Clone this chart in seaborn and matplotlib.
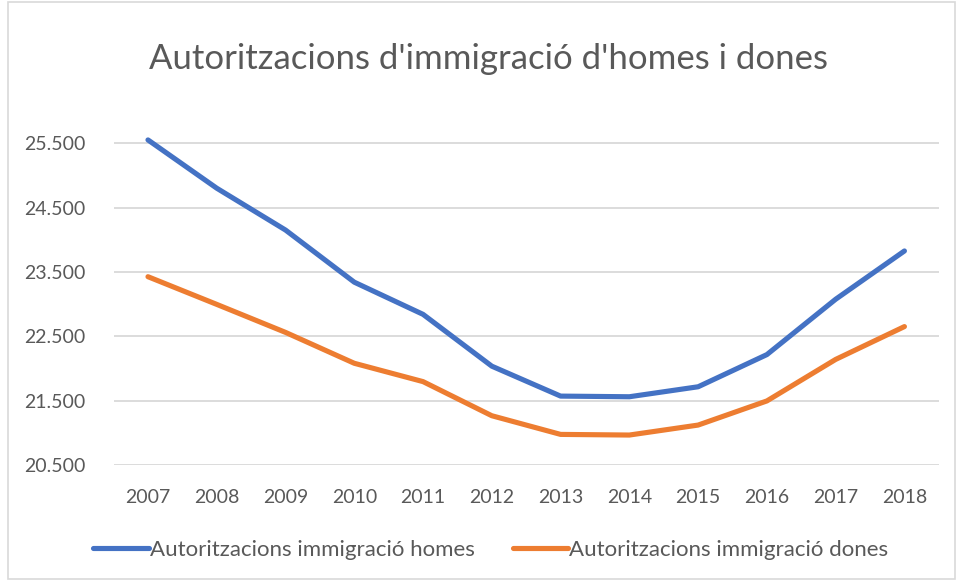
import pandas as pd
import numpy as np
import matplotlib.pyplot as plt
import seaborn as sns
from matplotlib.lines import Line2D
from matplotlib.patches import Rectangle

sns.set_style("white")
plt.rcParams['font.family'] = ['Lato', 'DejaVu Sans']

years = [2007, 2008, 2009, 2010, 2011, 2012, 2013, 2014, 2015, 2016, 2017, 2018]
homes = [25550, 24800, 24150, 23340, 22840, 22035, 21570, 21560, 21715, 22215, 23075, 23825]
dones = [23425, 22995, 22560, 22080, 21795, 21265, 20975, 20965, 21120, 21495, 22140, 22650]
series_names = ['Autoritzacions immigració homes', 'Autoritzacions immigració dones']
yticks = [20500, 21500, 22500, 23500, 24500, 25500]

df = pd.DataFrame({
    'any': [str(y) for y in years] * 2,
    'valor': homes + dones,
    'serie': [series_names[0]] * len(years) + [series_names[1]] * len(years),
})

colors = ['#4472C4', '#ED7D31']
txt = '#595959'

fig = plt.figure(figsize=(9.57, 5.81), dpi=100)
ax = fig.add_axes([0.1187, 0.1997, 0.8623, 0.5938])

sns.lineplot(data=df, x='any', y='valor', hue='serie', palette=colors,
             linewidth=3.7, ax=ax, legend=False, sort=False)
for ln in ax.get_lines():
    ln.set_solid_capstyle('round')
    ln.set_solid_joinstyle('round')

ax.set_xlim(-0.5, len(years) - 0.5)
ax.set_ylim(20500, 25860)
ax.set_yticks(yticks)
ax.set_yticklabels([f'{v:,}'.replace(',', '.') for v in yticks])
ax.yaxis.grid(True, color='#D9D9D9', linewidth=1.3)
ax.set_axisbelow(True)
for s in ax.spines.values():
    s.set_visible(False)
ax.tick_params(axis='both', length=0, colors=txt, labelsize=14)
ax.tick_params(axis='y', pad=20)
ax.tick_params(axis='x', pad=17)
ax.set_xlabel('')
ax.set_ylabel('')

fig.text(0.51, 0.899, "Autoritzacions d'immigració d'homes i dones",
         ha='center', va='center', fontsize=25, color=txt)

handles = [Line2D([0], [0], color=c, linewidth=3.7, solid_capstyle='round') for c in colors]
fig.legend(handles, series_names, loc='center', bbox_to_anchor=(0.513, 0.054),
           ncol=2, frameon=False, fontsize=16, labelcolor=txt,
           handlelength=2.5, handletextpad=0.05, columnspacing=1.7)

fig.patches.append(Rectangle((0.008, 0.003), 0.99, 0.994, transform=fig.transFigure,
                             fill=False, edgecolor='#D9D9D9', linewidth=1.2))

plt.savefig('out.png', dpi=100)
